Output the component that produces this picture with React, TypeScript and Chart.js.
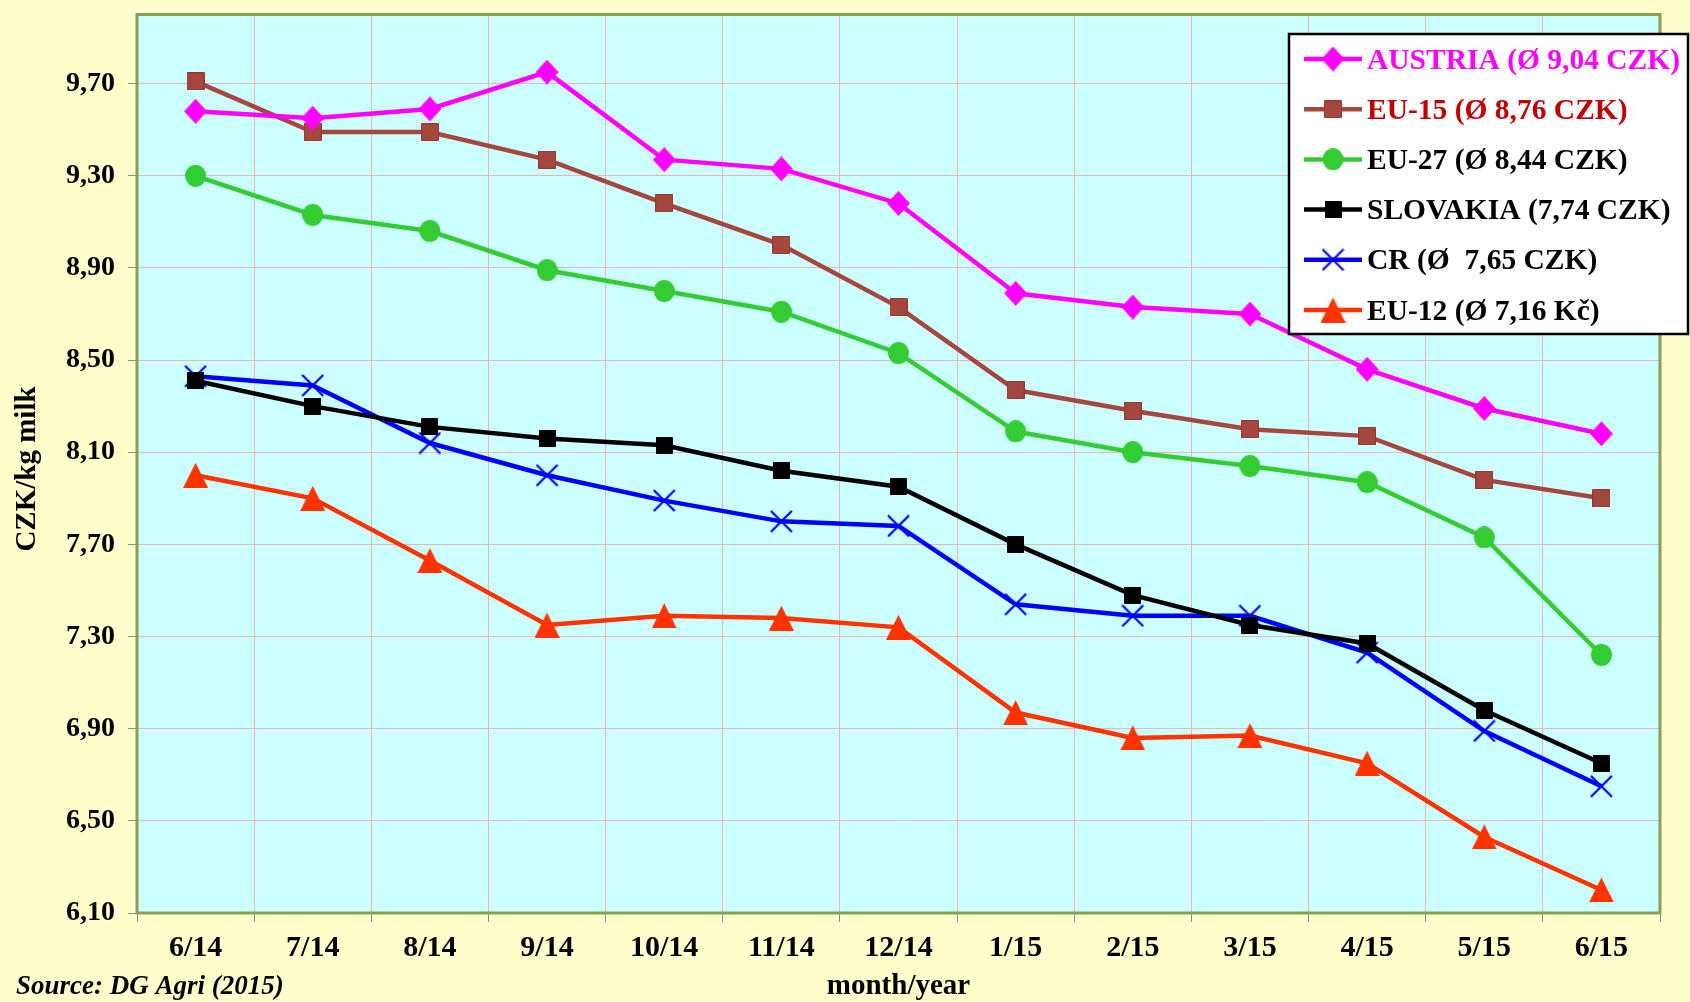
import React, { useEffect, useRef } from 'react';
import { Chart, registerables } from 'chart.js';

Chart.register(...registerables);

const categories = ['6/14', '7/14', '8/14', '9/14', '10/14', '11/14', '12/14', '1/15', '2/15', '3/15', '4/15', '5/15', '6/15'];
const austria = [9.58, 9.55, 9.59, 9.75, 9.37, 9.33, 9.18, 8.79, 8.73, 8.7, 8.46, 8.29, 8.18];
const eu15 = [9.71, 9.49, 9.49, 9.37, 9.18, 9.0, 8.73, 8.37, 8.28, 8.2, 8.17, 7.98, 7.9];
const eu27 = [9.3, 9.13, 9.06, 8.89, 8.8, 8.71, 8.53, 8.19, 8.1, 8.04, 7.97, 7.73, 7.22];
const slovakia = [8.41, 8.3, 8.21, 8.16, 8.13, 8.02, 7.95, 7.7, 7.48, 7.35, 7.27, 6.98, 6.75];
const cr = [8.43, 8.39, 8.14, 8.0, 7.89, 7.8, 7.78, 7.44, 7.39, 7.39, 7.23, 6.89, 6.65];
const eu12 = [8.0, 7.9, 7.63, 7.35, 7.39, 7.38, 7.34, 6.97, 6.86, 6.87, 6.75, 6.43, 6.2];
const seriesLabels = ['AUSTRIA (Ø 9,04 CZK)', 'EU-15 (Ø 8,76 CZK)', 'EU-27 (Ø 8,44 CZK)', 'SLOVAKIA (7,74 CZK)', 'CR (Ø  7,65 CZK)', 'EU-12 (Ø 7,16 Kč)'];
const yTickValues = [6.1, 6.5, 6.9, 7.3, 7.7, 8.1, 8.5, 8.9, 9.3, 9.7];
const yTitle = 'CZK/kg milk';
const xTitle = 'month/year';
const sourceText = 'Source: DG Agri (2015)';

const SERIF = '"Liberation Serif", "Times New Roman", serif';

function makeMarker(kind: string, color: string, w: number, h: number, stroke?: string): HTMLCanvasElement {
  const c = document.createElement('canvas');
  c.width = w;
  c.height = h;
  const ctx = c.getContext('2d')!;
  ctx.fillStyle = color;
  ctx.strokeStyle = stroke || color;
  ctx.lineWidth = 1;
  ctx.beginPath();
  if (kind === 'diamond') {
    ctx.moveTo(w / 2, 0);
    ctx.lineTo(w, h / 2);
    ctx.lineTo(w / 2, h);
    ctx.lineTo(0, h / 2);
    ctx.closePath();
    ctx.fill();
  } else if (kind === 'square') {
    ctx.rect(0.5, 0.5, w - 1, h - 1);
    ctx.fill();
    ctx.stroke();
  } else if (kind === 'ellipse') {
    ctx.ellipse(w / 2, h / 2, w / 2, h / 2, 0, 0, Math.PI * 2);
    ctx.fill();
  } else if (kind === 'triangle') {
    ctx.moveTo(w / 2, 0);
    ctx.lineTo(w, h);
    ctx.lineTo(0, h);
    ctx.closePath();
    ctx.fill();
  } else if (kind === 'cross') {
    ctx.lineWidth = 2.2;
    ctx.moveTo(1, 1);
    ctx.lineTo(w - 1, h - 1);
    ctx.moveTo(w - 1, 1);
    ctx.lineTo(1, h - 1);
    ctx.stroke();
  }
  return c;
}

export default function App() {
  const canvasRef = useRef<HTMLCanvasElement | null>(null);

  useEffect(() => {
    const canvas = canvasRef.current;
    if (!canvas) return;

    const colors = ['#FF00FF', '#A5463F', '#33CC33', '#000000', '#0000FF', '#FF3300'];
    const textColors = ['#FF00FF', '#C00000', '#000000', '#000000', '#000000', '#000000'];
    const markers = [
      makeMarker('diamond', '#FF00FF', 23, 25),
      makeMarker('square', '#A5463F', 18, 18, '#8E3A34'),
      makeMarker('ellipse', '#33CC33', 21, 22),
      makeMarker('square', '#000000', 17, 17),
      makeMarker('cross', '#0000FF', 23, 23),
      makeMarker('triangle', '#FF3300', 25, 25),
    ];
    const dataArrays = [austria, eu15, eu27, slovakia, cr, eu12];

    const plotPlugin = {
      id: 'plotDecor',
      beforeDraw(chart: any) {
        const { ctx, chartArea: a, width, height } = chart;
        ctx.save();
        ctx.fillStyle = '#FFFFCC';
        ctx.fillRect(0, 0, width, height);
        ctx.fillStyle = '#CCFFFF';
        ctx.fillRect(a.left, a.top, a.right - a.left, a.bottom - a.top);
        ctx.restore();
      },
      beforeDatasetsDraw(chart: any) {
        const { ctx, chartArea: a } = chart;
        ctx.save();
        ctx.strokeStyle = '#8A9E55';
        ctx.lineWidth = 3;
        ctx.strokeRect(a.left, a.top, a.right - a.left, a.bottom - a.top);
        ctx.restore();
      },
      afterDraw(chart: any) {
        const { ctx, chartArea: a } = chart;
        ctx.save();
        ctx.fillStyle = '#000000';
        ctx.font = `bold 29px ${SERIF}`;
        ctx.textAlign = 'center';
        ctx.textBaseline = 'middle';
        ctx.translate(28, 469);
        ctx.rotate(-Math.PI / 2);
        ctx.fillText(yTitle, 0, 0);
        ctx.restore();

        ctx.save();
        ctx.fillStyle = '#000000';
        ctx.font = `bold 29px ${SERIF}`;
        ctx.textAlign = 'center';
        ctx.textBaseline = 'middle';
        ctx.fillText(xTitle, (a.left + a.right) / 2, 987);
        ctx.font = `italic bold 27px ${SERIF}`;
        ctx.textAlign = 'left';
        ctx.fillText(sourceText, 16, 987);
        ctx.restore();

        // legend
        const lx = 1289, ly = 34, lw = 399, lh = 300;
        ctx.save();
        ctx.fillStyle = '#FFFFFF';
        ctx.fillRect(lx, ly, lw, lh);
        ctx.strokeStyle = '#000000';
        ctx.lineWidth = 2.5;
        ctx.strokeRect(lx, ly, lw, lh);
        ctx.font = `bold 29.5px ${SERIF}`;
        ctx.textBaseline = 'middle';
        ctx.textAlign = 'left';
        for (let i = 0; i < seriesLabels.length; i++) {
          const cy = 59 + i * 50.2;
          ctx.strokeStyle = colors[i];
          ctx.lineWidth = 4.5;
          ctx.beginPath();
          ctx.moveTo(1304, cy);
          ctx.lineTo(1362, cy);
          ctx.stroke();
          const m = markers[i];
          ctx.drawImage(m, 1333 - m.width / 2, cy - m.height / 2);
          ctx.fillStyle = textColors[i];
          ctx.fillText(seriesLabels[i], 1367, cy + 2);
        }
        ctx.restore();
      },
    };

    const chart = new Chart(canvas, {
      type: 'line',
      data: {
        labels: categories,
        datasets: dataArrays.map((d, i) => ({
          label: seriesLabels[i],
          data: d,
          borderColor: colors[i],
          backgroundColor: colors[i],
          borderWidth: 4.5,
          pointStyle: markers[i] as any,
          pointRadius: 10,
          tension: 0,
          clip: false as any,
        })),
      },
      options: {
        animation: false,
        responsive: true,
        maintainAspectRatio: false,
        layout: { padding: { left: 0, right: 30, top: 13, bottom: 0 } },
        plugins: {
          legend: { display: false },
          tooltip: { enabled: false },
        },
        scales: {
          x: {
            type: 'category',
            offset: true,
            grid: {
              offset: true,
              color: '#E8B6B6',
              lineWidth: 1,
              tickColor: '#8C8C8C',
              tickLength: 9,
            },
            border: { display: false },
            ticks: {
              color: '#000000',
              font: { family: SERIF, size: 30, weight: 'bold' },
              padding: 8,
              maxRotation: 0,
              autoSkip: false,
            },
            afterFit(scale: any) {
              scale.height = 89;
              scale.paddingLeft = 0;
              scale.paddingRight = 0;
            },
          },
          y: {
            type: 'linear',
            min: 6.1,
            max: 10.0,
            grid: {
              color: '#E8B6B6',
              lineWidth: 1,
              tickColor: '#8C8C8C',
              tickLength: 9,
            },
            border: { display: false },
            afterBuildTicks(scale: any) {
              scale.ticks = yTickValues.map((v) => ({ value: v }));
            },
            ticks: {
              color: '#000000',
              font: { family: SERIF, size: 28, weight: 'bold' },
              padding: 13,
              callback: (v: any) => Number(v).toFixed(2).replace('.', ','),
            },
            afterFit(scale: any) {
              scale.width = 137;
              scale.paddingTop = 0;
              scale.paddingBottom = 0;
            },
          },
        },
      },
      plugins: [plotPlugin],
    });

    return () => chart.destroy();
  }, []);

  return (
    <div style={{ position: 'fixed', left: 0, top: 0, width: 1690, height: 1002, background: '#FFFFCC' }}>
      <canvas ref={canvasRef} />
    </div>
  );
}
